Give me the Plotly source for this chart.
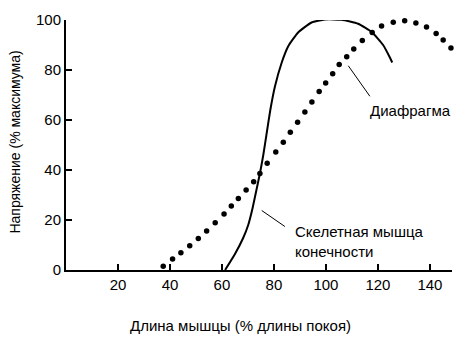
import plotly.graph_objects as go

# Diaphragm (dotted curve)
dia_x = [37.4, 41.0, 44.2, 47.6, 50.9, 54.1, 57.4, 60.8, 63.6, 66.3, 69.3, 72.2,
         74.6, 77.4, 80.7, 83.6, 86.3, 89.1, 91.9, 94.6, 97.4, 99.9, 102.6, 105.1,
         108.0, 110.7, 114.0, 117.8, 121.4, 125.9, 130.3, 134.6, 138.7, 142.4, 145.1, 148.1]
dia_y = [1.5, 4.4, 6.9, 9.7, 12.6, 15.6, 18.9, 22.4, 25.6, 28.6, 32.0, 35.3,
         38.6, 42.7, 47.2, 51.1, 55.1, 59.1, 63.2, 67.2, 71.4, 74.8, 78.5, 82.2,
         85.3, 88.4, 91.8, 95.0, 97.6, 99.1, 99.7, 98.8, 97.2, 94.6, 92.0, 88.8]

# Skeletal limb muscle (solid curve)
sk_x = [61.2, 65, 68.2, 70.1, 71.7, 73.3, 74.6, 75.9, 77.1, 78.6, 80.4, 83, 85.5, 89.3,
        94.5, 99.6, 106, 112.4, 117.6, 122, 124.6, 125.5]
sk_y = [0, 6.4, 12.9, 18, 24.4, 32.2, 38.6, 46, 54, 64, 73.5, 83, 89.5, 95,
        99, 100.2, 100.1, 98.5, 95.2, 90, 85, 83]

x_ticks = [20, 40, 60, 80, 100, 120, 140]
y_ticks = [0, 20, 40, 60, 80, 100]

FONT = "Liberation Sans, Arial, sans-serif"

fig = go.Figure()
fig.add_trace(go.Scatter(x=sk_x, y=sk_y, mode="lines",
                         line=dict(color="black", width=2, shape="spline", smoothing=0.5),
                         cliponaxis=False, hoverinfo="skip"))
fig.add_trace(go.Scatter(x=dia_x, y=dia_y, mode="markers",
                         marker=dict(color="black", size=5.5),
                         cliponaxis=False, hoverinfo="skip"))

# leader lines
fig.add_shape(type="line", xref="x", yref="y", x0=108.6, y0=81.7, x1=116.9, y1=69.5,
              line=dict(color="black", width=1))
fig.add_shape(type="line", xref="x", yref="y", x0=75.3, y0=23.8, x1=84.2, y1=17.4,
              line=dict(color="black", width=1))

fig.add_annotation(x=116.0, y=63.7, xref="x", yref="y", text="Диафрагма",
                   showarrow=False, xanchor="left", yanchor="middle",
                   font=dict(size=15, color="black", family=FONT))
fig.add_annotation(x=87.3, y=11.6, xref="x", yref="y",
                   text="Скелетная мышца<br>конечности",
                   showarrow=False, xanchor="left", yanchor="middle", align="left",
                   font=dict(size=15, color="black", family=FONT))

# axis titles
fig.add_annotation(x=(240 - 66) / 386, y=-(327 - 270) / 259, xref="paper", yref="paper",
                   text="Длина мышцы (% длины покоя)", showarrow=False,
                   xanchor="center", yanchor="middle",
                   font=dict(size=15, color="black", family=FONT))
fig.add_annotation(x=-(66 - 15) / 386, y=(270 - 138) / 259, xref="paper", yref="paper",
                   text="Напряжение (% максимума)", showarrow=False, textangle=-90,
                   xanchor="center", yanchor="middle",
                   font=dict(size=14, color="black", family=FONT))

fig.update_layout(
    width=467, height=343,
    margin=dict(l=66, r=15, t=11, b=73),
    paper_bgcolor="white", plot_bgcolor="white",
    showlegend=False,
    font=dict(family=FONT, color="black", size=14),
    xaxis=dict(range=[0, 148.5], tickvals=x_ticks, ticktext=[str(v) for v in x_ticks],
               showgrid=False, zeroline=False, showline=True, linecolor="black", linewidth=2,
               ticks="inside", ticklen=6, tickwidth=1.5, tickcolor="black",
               tickfont=dict(size=15, family=FONT)),
    yaxis=dict(range=[0, 100], tickvals=y_ticks, ticktext=[str(v) for v in y_ticks],
               showgrid=False, zeroline=False, showline=True, linecolor="black", linewidth=2,
               ticks="inside", ticklen=6, tickwidth=1.5, tickcolor="black",
               tickfont=dict(size=15, family=FONT)),
)

fig.write_html("out.html")
